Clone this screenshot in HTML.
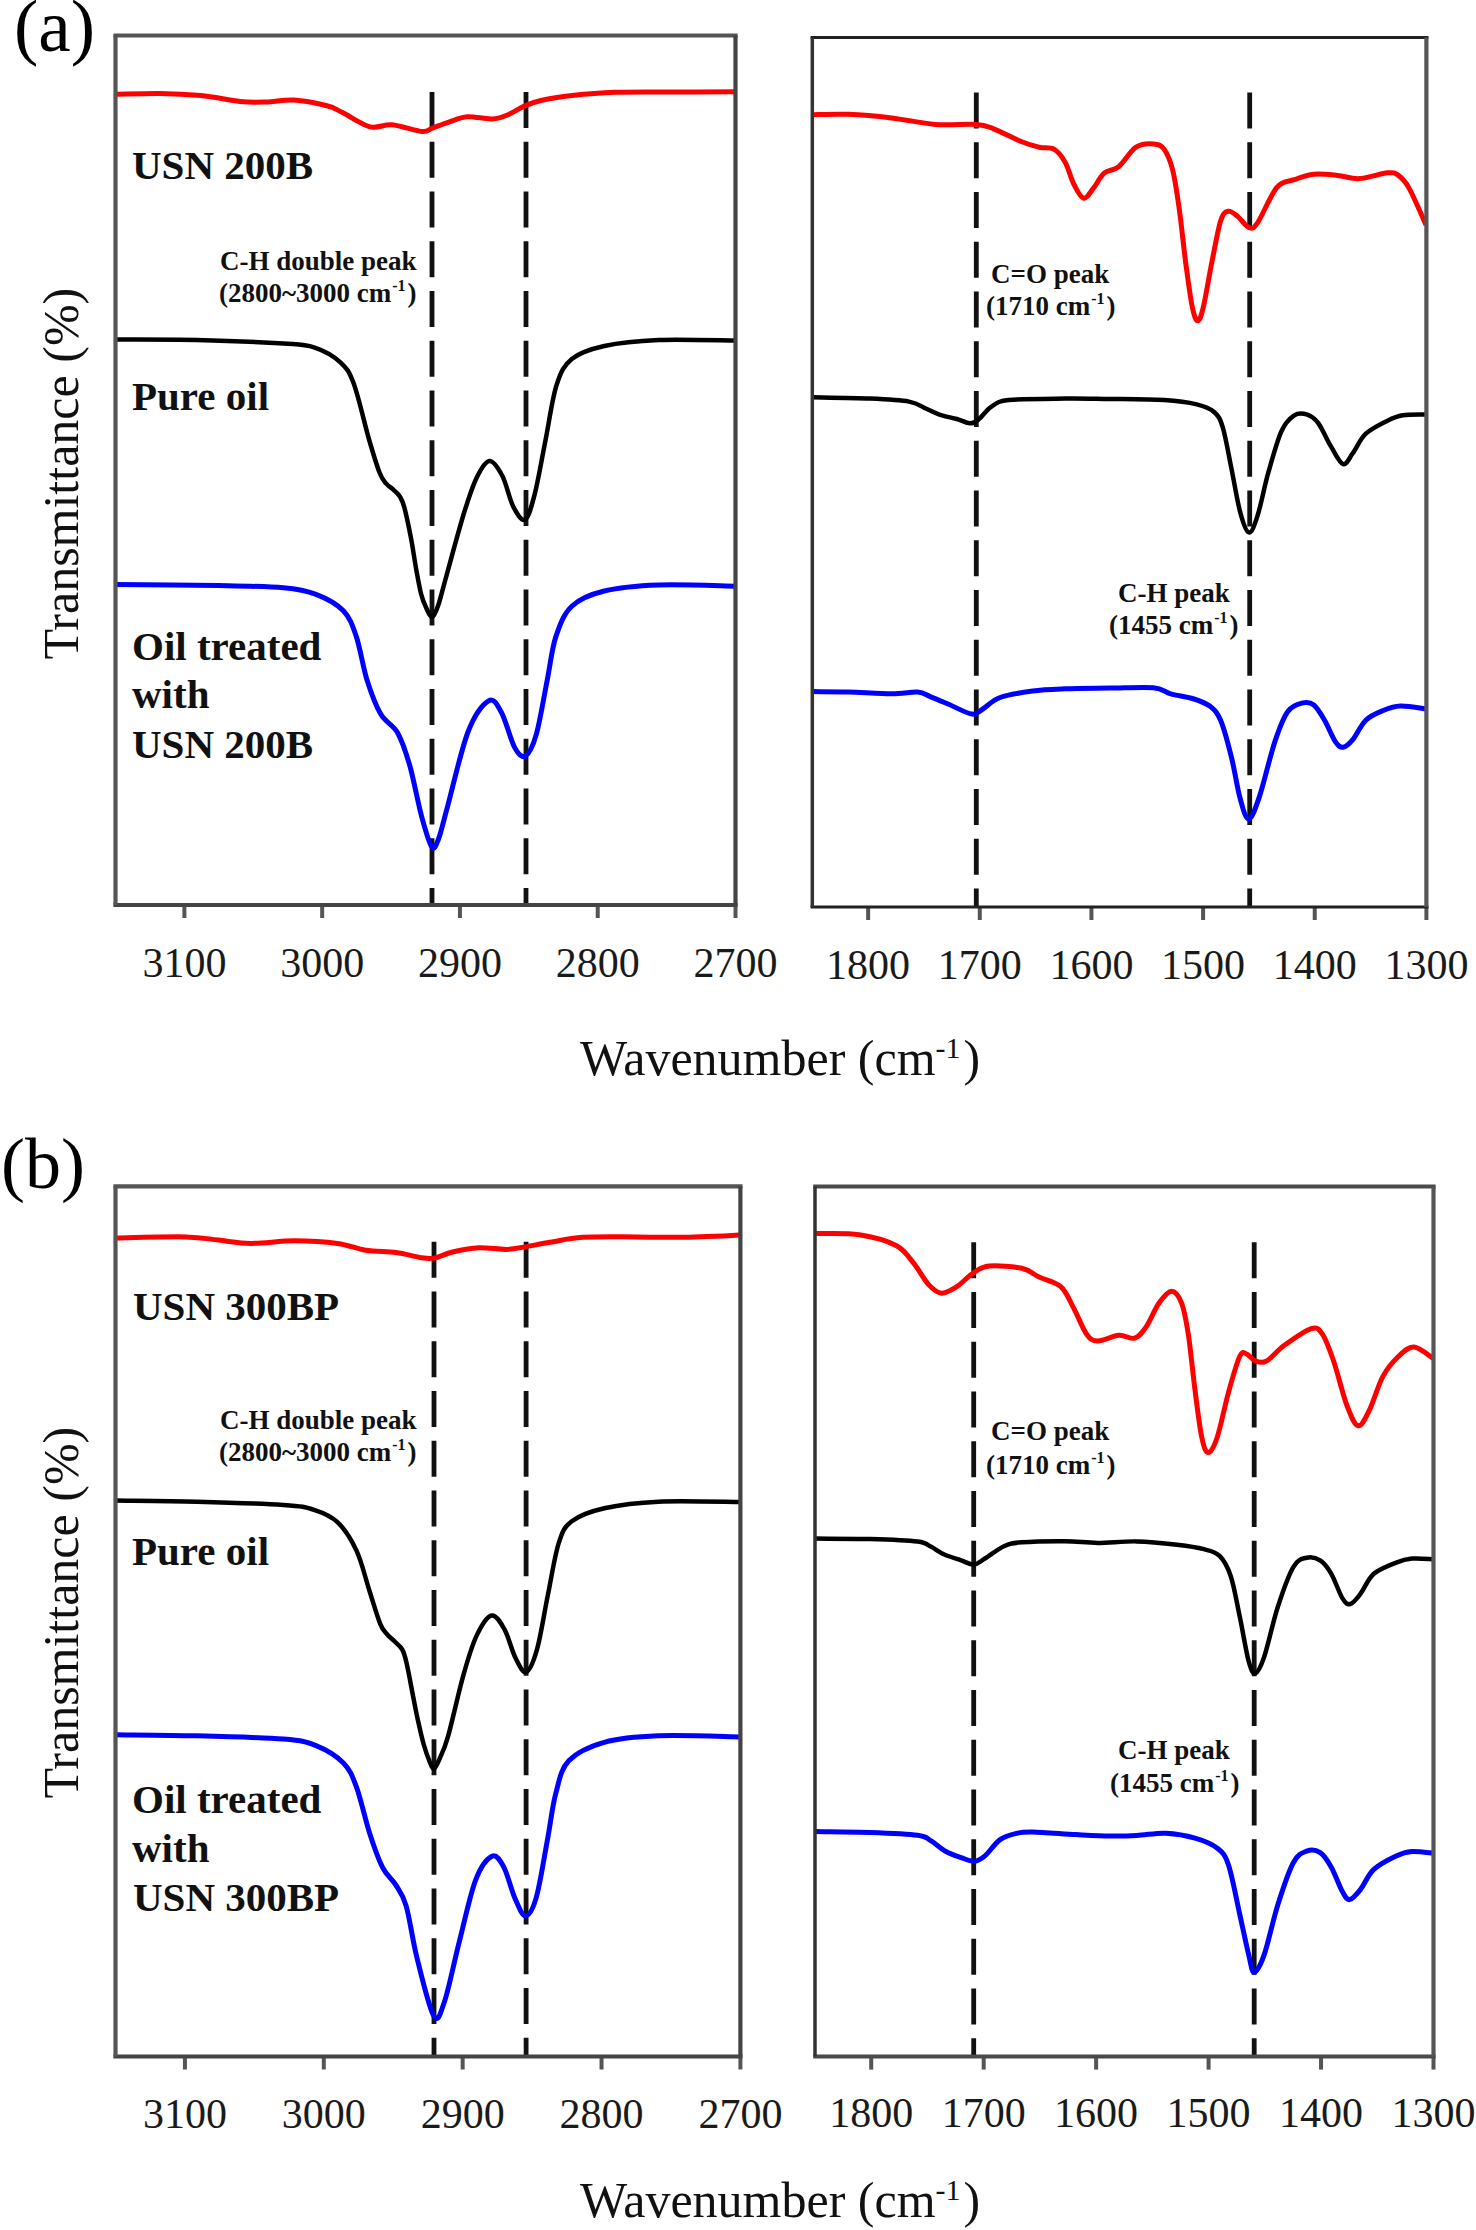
<!DOCTYPE html>
<html><head><meta charset="utf-8"><style>
html,body{margin:0;padding:0;background:#fff;}
svg{display:block;}
text{font-family:"Liberation Serif",serif;}
</style></head><body>
<svg width="1476" height="2230" viewBox="0 0 1476 2230">
<rect width="1476" height="2230" fill="#fff"/>
<g>

<line x1="184.38888888888889" y1="905" x2="184.38888888888889" y2="918" stroke="#555" stroke-width="4"/>
<text x="184.4" y="976.7" font-size="42" font-weight="normal" text-anchor="middle" fill="#1a1a1a" >3100</text>
<line x1="322.16666666666663" y1="905" x2="322.16666666666663" y2="918" stroke="#555" stroke-width="4"/>
<text x="322.2" y="976.7" font-size="42" font-weight="normal" text-anchor="middle" fill="#1a1a1a" >3000</text>
<line x1="459.94444444444446" y1="905" x2="459.94444444444446" y2="918" stroke="#555" stroke-width="4"/>
<text x="459.9" y="976.7" font-size="42" font-weight="normal" text-anchor="middle" fill="#1a1a1a" >2900</text>
<line x1="597.7222222222222" y1="905" x2="597.7222222222222" y2="918" stroke="#555" stroke-width="4"/>
<text x="597.7" y="976.7" font-size="42" font-weight="normal" text-anchor="middle" fill="#1a1a1a" >2800</text>
<line x1="735.5" y1="905" x2="735.5" y2="918" stroke="#555" stroke-width="4"/>
<text x="735.5" y="976.7" font-size="42" font-weight="normal" text-anchor="middle" fill="#1a1a1a" >2700</text>
<line x1="868.1272727272727" y1="907" x2="868.1272727272727" y2="920" stroke="#555" stroke-width="4"/>
<text x="868.1" y="978.5" font-size="42" font-weight="normal" text-anchor="middle" fill="#1a1a1a" >1800</text>
<line x1="979.7818181818182" y1="907" x2="979.7818181818182" y2="920" stroke="#555" stroke-width="4"/>
<text x="979.8" y="978.5" font-size="42" font-weight="normal" text-anchor="middle" fill="#1a1a1a" >1700</text>
<line x1="1091.4363636363637" y1="907" x2="1091.4363636363637" y2="920" stroke="#555" stroke-width="4"/>
<text x="1091.4" y="978.5" font-size="42" font-weight="normal" text-anchor="middle" fill="#1a1a1a" >1600</text>
<line x1="1203.0909090909092" y1="907" x2="1203.0909090909092" y2="920" stroke="#555" stroke-width="4"/>
<text x="1203.1" y="978.5" font-size="42" font-weight="normal" text-anchor="middle" fill="#1a1a1a" >1500</text>
<line x1="1314.7454545454545" y1="907" x2="1314.7454545454545" y2="920" stroke="#555" stroke-width="4"/>
<text x="1314.7" y="978.5" font-size="42" font-weight="normal" text-anchor="middle" fill="#1a1a1a" >1400</text>
<line x1="1426.4" y1="907" x2="1426.4" y2="920" stroke="#555" stroke-width="4"/>
<text x="1426.4" y="978.5" font-size="42" font-weight="normal" text-anchor="middle" fill="#1a1a1a" >1300</text>
<line x1="432" y1="92" x2="432" y2="905" stroke="#111" stroke-width="4.8" stroke-dasharray="36 13.75"/>
<line x1="526" y1="92" x2="526" y2="905" stroke="#111" stroke-width="4.8" stroke-dasharray="36 13.75"/>
<line x1="976.3" y1="92.5" x2="976.3" y2="907" stroke="#111" stroke-width="4.8" stroke-dasharray="36 13.75"/>
<line x1="1249.7" y1="92.5" x2="1249.7" y2="907" stroke="#111" stroke-width="4.8" stroke-dasharray="36 13.75"/>
<text x="14" y="51" font-size="73" font-weight="normal" text-anchor="start" fill="#000" >(a)</text>
<text x="78" y="659.5" font-size="50" font-weight="normal" text-anchor="start" fill="#111" transform="rotate(-90 78 659.5)">Transmittance (%)</text>
<text x="580" y="1075" font-size="50" font-weight="normal" text-anchor="start" fill="#111" >Wavenumber (cm<tspan font-size="30" dy="-17">-1</tspan><tspan dy="17" dx="3">)</tspan></text>
<text x="132" y="179" font-size="41" font-weight="bold" text-anchor="start" fill="#111" >USN 200B</text>
<text x="132" y="410" font-size="41" font-weight="bold" text-anchor="start" fill="#111" >Pure oil</text>
<text x="132" y="659.5" font-size="41" font-weight="bold" text-anchor="start" fill="#111" >Oil treated</text>
<text x="132" y="707.5" font-size="41" font-weight="bold" text-anchor="start" fill="#111" >with</text>
<text x="132" y="757.5" font-size="41" font-weight="bold" text-anchor="start" fill="#111" >USN 200B</text>
<text x="220" y="269.5" font-size="27" font-weight="bold" text-anchor="start" fill="#111" >C-H double peak</text>
<text x="219" y="301.5" font-size="27" font-weight="bold" text-anchor="start" fill="#111" >(2800~3000 cm<tspan font-size="16" dy="-11" dx="1">-1</tspan><tspan dy="11" dx="2">)</tspan></text>
<text x="991" y="282.5" font-size="27" font-weight="bold" text-anchor="start" fill="#111" >C=O peak</text>
<text x="986" y="315" font-size="27" font-weight="bold" text-anchor="start" fill="#111" >(1710 cm<tspan font-size="16" dy="-11" dx="1">-1</tspan><tspan dy="11" dx="2">)</tspan></text>
<text x="1118" y="602" font-size="27" font-weight="bold" text-anchor="start" fill="#111" >C-H peak</text>
<text x="1109" y="634" font-size="27" font-weight="bold" text-anchor="start" fill="#111" >(1455 cm<tspan font-size="16" dy="-11" dx="1">-1</tspan><tspan dy="11" dx="2">)</tspan></text>
<line x1="184.93333333333334" y1="2056.5" x2="184.93333333333334" y2="2069.5" stroke="#555" stroke-width="4"/>
<text x="184.9" y="2127.5" font-size="42" font-weight="normal" text-anchor="middle" fill="#1a1a1a" >3100</text>
<line x1="323.8" y1="2056.5" x2="323.8" y2="2069.5" stroke="#555" stroke-width="4"/>
<text x="323.8" y="2127.5" font-size="42" font-weight="normal" text-anchor="middle" fill="#1a1a1a" >3000</text>
<line x1="462.6666666666667" y1="2056.5" x2="462.6666666666667" y2="2069.5" stroke="#555" stroke-width="4"/>
<text x="462.7" y="2127.5" font-size="42" font-weight="normal" text-anchor="middle" fill="#1a1a1a" >2900</text>
<line x1="601.5333333333333" y1="2056.5" x2="601.5333333333333" y2="2069.5" stroke="#555" stroke-width="4"/>
<text x="601.5" y="2127.5" font-size="42" font-weight="normal" text-anchor="middle" fill="#1a1a1a" >2800</text>
<line x1="740.4" y1="2056.5" x2="740.4" y2="2069.5" stroke="#555" stroke-width="4"/>
<text x="740.4" y="2127.5" font-size="42" font-weight="normal" text-anchor="middle" fill="#1a1a1a" >2700</text>
<line x1="871.2272727272727" y1="2056.6" x2="871.2272727272727" y2="2069.6" stroke="#555" stroke-width="4"/>
<text x="871.2" y="2127" font-size="42" font-weight="normal" text-anchor="middle" fill="#1a1a1a" >1800</text>
<line x1="983.6818181818182" y1="2056.6" x2="983.6818181818182" y2="2069.6" stroke="#555" stroke-width="4"/>
<text x="983.7" y="2127" font-size="42" font-weight="normal" text-anchor="middle" fill="#1a1a1a" >1700</text>
<line x1="1096.1363636363635" y1="2056.6" x2="1096.1363636363635" y2="2069.6" stroke="#555" stroke-width="4"/>
<text x="1096.1" y="2127" font-size="42" font-weight="normal" text-anchor="middle" fill="#1a1a1a" >1600</text>
<line x1="1208.590909090909" y1="2056.6" x2="1208.590909090909" y2="2069.6" stroke="#555" stroke-width="4"/>
<text x="1208.6" y="2127" font-size="42" font-weight="normal" text-anchor="middle" fill="#1a1a1a" >1500</text>
<line x1="1321.0454545454545" y1="2056.6" x2="1321.0454545454545" y2="2069.6" stroke="#555" stroke-width="4"/>
<text x="1321.0" y="2127" font-size="42" font-weight="normal" text-anchor="middle" fill="#1a1a1a" >1400</text>
<line x1="1433.5" y1="2056.6" x2="1433.5" y2="2069.6" stroke="#555" stroke-width="4"/>
<text x="1433.5" y="2127" font-size="42" font-weight="normal" text-anchor="middle" fill="#1a1a1a" >1300</text>
<line x1="434" y1="1241.8" x2="434" y2="2056.5" stroke="#111" stroke-width="4.8" stroke-dasharray="36 13.75"/>
<line x1="526.1" y1="1241.8" x2="526.1" y2="2056.5" stroke="#111" stroke-width="4.8" stroke-dasharray="36 13.75"/>
<line x1="973.7" y1="1242.3" x2="973.7" y2="2056.2" stroke="#111" stroke-width="4.8" stroke-dasharray="36 13.75"/>
<line x1="1254.2" y1="1242.3" x2="1254.2" y2="2056.2" stroke="#111" stroke-width="4.8" stroke-dasharray="36 13.75"/>
<text x="1" y="1188" font-size="72" font-weight="normal" text-anchor="start" fill="#000" >(b)</text>
<text x="78" y="1798.5" font-size="50" font-weight="normal" text-anchor="start" fill="#111" transform="rotate(-90 78 1798.5)">Transmittance (%)</text>
<text x="580" y="2217" font-size="50" font-weight="normal" text-anchor="start" fill="#111" >Wavenumber (cm<tspan font-size="30" dy="-17">-1</tspan><tspan dy="17" dx="3">)</tspan></text>
<text x="133" y="1320.2" font-size="41" font-weight="bold" text-anchor="start" fill="#111" >USN 300BP</text>
<text x="132" y="1564.7" font-size="41" font-weight="bold" text-anchor="start" fill="#111" >Pure oil</text>
<text x="132" y="1812.9" font-size="41" font-weight="bold" text-anchor="start" fill="#111" >Oil treated</text>
<text x="132" y="1862.1" font-size="41" font-weight="bold" text-anchor="start" fill="#111" >with</text>
<text x="133" y="1911.3" font-size="41" font-weight="bold" text-anchor="start" fill="#111" >USN 300BP</text>
<text x="220" y="1428.7" font-size="27" font-weight="bold" text-anchor="start" fill="#111" >C-H double peak</text>
<text x="219" y="1460.5" font-size="27" font-weight="bold" text-anchor="start" fill="#111" >(2800~3000 cm<tspan font-size="16" dy="-11" dx="1">-1</tspan><tspan dy="11" dx="2">)</tspan></text>
<text x="991" y="1440" font-size="27" font-weight="bold" text-anchor="start" fill="#111" >C=O peak</text>
<text x="986" y="1473.5" font-size="27" font-weight="bold" text-anchor="start" fill="#111" >(1710 cm<tspan font-size="16" dy="-11" dx="1">-1</tspan><tspan dy="11" dx="2">)</tspan></text>
<text x="1118" y="1759.4" font-size="27" font-weight="bold" text-anchor="start" fill="#111" >C-H peak</text>
<text x="1110" y="1791.8" font-size="27" font-weight="bold" text-anchor="start" fill="#111" >(1455 cm<tspan font-size="16" dy="-11" dx="1">-1</tspan><tspan dy="11" dx="2">)</tspan></text>
<path d="M115.0,94.3 C122.5,94.2 145.7,93.2 160.0,93.4 C174.3,93.6 187.7,94.3 201.0,95.6 C214.3,96.9 229.2,100.3 240.0,101.4 C250.8,102.5 257.0,102.2 266.0,102.0 C275.0,101.8 283.8,99.4 294.0,100.0 C304.2,100.6 319.0,103.8 327.0,105.8 C335.0,107.8 334.8,108.8 342.0,112.3 C349.2,115.8 361.7,124.7 370.0,126.8 C378.3,128.9 383.4,123.9 392.0,124.7 C400.6,125.5 414.9,130.8 421.7,131.4 C428.4,132.0 428.0,129.7 432.5,128.1 C437.0,126.5 443.0,124.0 448.8,122.1 C454.6,120.2 460.0,117.2 467.2,116.7 C474.4,116.2 485.2,119.2 492.1,118.9 C499.0,118.6 503.0,116.8 508.4,114.6 C513.8,112.4 519.3,108.2 524.7,105.9 C530.1,103.6 533.0,102.2 540.9,100.5 C548.8,98.8 559.6,97.0 572.0,95.6 C584.4,94.2 597.0,92.9 615.0,92.3 C633.0,91.7 659.9,92.1 680.0,92.0 C700.1,91.9 726.2,91.8 735.5,91.7" fill="none" stroke="#ff0000" stroke-width="5" stroke-linejoin="round" stroke-linecap="butt"/>
<path d="M115.4,339.5 C128.9,339.6 168.7,339.3 196.7,340.0 C224.7,340.7 263.8,342.3 283.4,343.5 C302.9,344.7 304.5,344.2 314.0,347.3 C323.5,350.4 333.8,356.2 340.4,362.3 C347.0,368.4 349.0,370.9 353.8,383.8 C358.6,396.8 364.9,425.2 369.2,440.0 C373.5,454.8 376.7,465.3 379.5,472.5 C382.3,479.7 383.6,480.5 386.0,483.4 C388.4,486.3 391.2,487.6 393.6,489.9 C396.0,492.1 398.3,493.9 400.1,496.9 C401.9,499.9 402.6,500.9 404.4,507.7 C406.2,514.5 408.9,527.3 410.9,537.6 C412.9,547.9 414.5,559.9 416.2,569.3 C417.9,578.7 419.4,587.4 421.1,594.0 C422.8,600.6 424.8,605.0 426.6,608.8 C428.5,612.6 430.3,617.5 432.2,617.0 C434.1,616.5 435.8,612.2 438.0,606.0 C440.2,599.8 441.1,595.2 445.3,580.0 C449.5,564.8 458.2,532.0 463.4,515.0 C468.6,498.1 472.1,487.3 476.4,478.3 C480.7,469.3 485.1,461.4 489.4,461.0 C493.7,460.6 498.4,468.4 502.4,476.0 C506.4,483.6 509.4,499.2 513.2,506.5 C517.0,513.8 521.5,521.7 525.1,519.5 C528.7,517.3 531.5,506.8 534.9,493.4 C538.3,480.0 542.1,457.3 545.7,439.2 C549.3,421.1 552.2,398.4 556.6,385.0 C561.0,371.6 563.8,365.5 571.8,359.0 C579.8,352.5 589.8,349.2 604.3,346.0 C618.8,342.8 636.6,340.9 658.5,340.0 C680.4,339.1 722.7,340.5 735.5,340.6" fill="none" stroke="#000" stroke-width="4.5" stroke-linejoin="round" stroke-linecap="butt"/>
<path d="M115.4,584.5 C132.6,584.7 190.4,585.1 218.4,585.6 C246.4,586.1 267.1,586.3 283.4,587.8 C299.7,589.2 306.0,590.5 316.0,594.3 C326.0,598.1 336.7,603.7 343.4,610.8 C350.1,617.9 352.5,625.4 356.4,636.9 C360.3,648.4 362.9,667.1 367.0,680.0 C371.1,692.9 375.6,705.3 380.7,714.1 C385.8,722.9 392.9,724.4 397.7,732.9 C402.5,741.4 405.7,751.4 409.7,765.3 C413.7,779.2 417.9,802.8 421.6,816.4 C425.3,830.0 429.0,843.2 431.8,847.0 C434.6,850.8 435.9,845.5 438.5,839.0 C441.1,832.5 442.3,825.7 447.2,807.9 C452.1,790.1 461.1,749.9 468.0,732.0 C474.9,714.1 483.0,704.0 488.6,700.8 C494.2,697.6 497.3,704.9 501.6,712.7 C505.9,720.5 510.6,740.2 514.6,747.4 C518.6,754.6 521.9,758.2 525.5,756.0 C529.1,753.8 532.7,747.0 536.3,734.4 C539.9,721.8 544.0,696.5 547.2,680.2 C550.5,664.0 551.7,649.2 555.8,636.9 C559.9,624.6 563.7,613.9 571.8,606.2 C579.9,598.6 589.8,594.5 604.3,591.0 C618.8,587.5 636.6,585.8 658.5,585.0 C680.4,584.2 722.7,586.0 735.5,586.2" fill="none" stroke="#0000ff" stroke-width="5" stroke-linejoin="round" stroke-linecap="butt"/>
<path d="M812.6,114.7 C818.6,114.6 835.2,113.8 848.4,114.3 C861.6,114.8 877.3,116.2 891.7,117.9 C906.1,119.6 920.9,123.3 935.0,124.4 C949.1,125.5 966.5,123.7 976.3,124.4 C986.1,125.1 986.0,125.9 993.6,128.8 C1001.2,131.7 1014.2,138.7 1021.8,141.8 C1029.4,144.9 1033.7,145.9 1039.1,147.2 C1044.5,148.5 1049.9,146.9 1054.3,149.4 C1058.7,151.9 1062.0,156.6 1065.2,162.4 C1068.5,168.2 1070.7,178.1 1073.8,184.1 C1076.9,190.1 1080.3,197.5 1083.6,198.2 C1086.8,198.9 1089.9,192.6 1093.3,188.4 C1096.7,184.2 1100.0,176.8 1104.2,173.2 C1108.4,169.6 1113.4,171.0 1118.7,166.7 C1124.0,162.4 1130.2,151.0 1136.0,147.2 C1141.8,143.4 1148.7,143.6 1153.4,144.0 C1158.1,144.4 1161.0,144.9 1164.2,149.4 C1167.5,153.9 1170.4,160.9 1172.9,171.0 C1175.4,181.1 1177.2,194.5 1179.4,210.1 C1181.6,225.7 1183.7,248.1 1185.9,264.3 C1188.1,280.6 1190.4,298.2 1192.4,307.6 C1194.4,317.0 1196.0,320.7 1197.8,320.7 C1199.6,320.7 1200.8,317.4 1203.2,307.6 C1205.6,297.8 1209.0,276.6 1211.9,262.1 C1214.8,247.7 1217.9,229.4 1220.6,220.9 C1223.3,212.4 1225.3,211.9 1228.2,211.2 C1231.1,210.5 1234.5,213.9 1237.9,216.6 C1241.3,219.3 1245.5,226.3 1248.8,227.4 C1252.0,228.5 1252.7,229.8 1257.4,223.1 C1262.1,216.4 1270.8,194.5 1276.9,187.3 C1283.1,180.1 1288.2,181.9 1294.3,179.7 C1300.4,177.5 1306.6,175.0 1313.8,174.3 C1321.0,173.6 1330.0,174.7 1337.6,175.4 C1345.2,176.1 1351.0,179.0 1359.3,178.6 C1367.6,178.2 1381.0,173.3 1387.5,172.8 C1394.0,172.3 1394.8,172.8 1398.4,175.4 C1402.0,178.0 1404.6,180.1 1409.2,188.4 C1413.8,196.7 1423.2,218.9 1426.0,225.0" fill="none" stroke="#ff0000" stroke-width="5" stroke-linejoin="round" stroke-linecap="butt"/>
<path d="M812.6,397.3 C822.2,397.5 853.9,397.9 870.0,398.6 C886.1,399.3 899.7,399.9 909.1,401.6 C918.5,403.3 921.4,406.6 926.4,408.8 C931.4,411.0 934.3,412.9 939.4,414.6 C944.5,416.3 951.7,417.6 956.8,419.0 C961.9,420.4 966.2,423.2 969.8,423.3 C973.4,423.4 974.8,422.4 978.4,419.6 C982.0,416.8 986.4,409.9 991.5,406.6 C996.6,403.4 996.5,401.4 1008.8,400.1 C1021.1,398.8 1048.3,398.8 1065.2,398.6 C1082.1,398.4 1093.5,398.8 1110.0,399.0 C1126.5,399.2 1149.8,399.2 1164.2,400.1 C1178.7,401.0 1188.4,402.4 1196.7,404.4 C1205.0,406.4 1209.8,408.2 1214.1,412.0 C1218.4,415.8 1219.8,417.8 1222.7,427.2 C1225.6,436.6 1228.5,454.3 1231.4,468.4 C1234.3,482.5 1237.2,501.1 1240.1,511.8 C1243.0,522.5 1245.9,531.7 1248.8,532.4 C1251.7,533.1 1254.2,526.1 1257.4,516.1 C1260.7,506.2 1264.3,486.8 1268.3,472.7 C1272.3,458.6 1277.0,441.1 1281.3,431.5 C1285.6,421.9 1290.0,418.1 1294.3,415.3 C1298.6,412.5 1303.3,413.3 1307.3,414.6 C1311.3,415.9 1314.1,417.5 1318.1,422.9 C1322.1,428.2 1326.9,439.8 1331.1,446.7 C1335.3,453.6 1339.5,463.0 1343.1,464.1 C1346.7,465.2 1349.0,458.3 1352.8,453.2 C1356.6,448.1 1360.0,439.1 1365.8,433.7 C1371.6,428.3 1381.3,423.8 1387.5,420.7 C1393.7,417.6 1396.3,416.3 1402.7,415.3 C1409.1,414.3 1422.1,414.7 1426.0,414.6" fill="none" stroke="#000" stroke-width="4.5" stroke-linejoin="round" stroke-linecap="butt"/>
<path d="M812.6,691.6 C818.6,691.7 835.2,691.6 848.4,692.0 C861.6,692.4 880.2,693.8 891.7,693.8 C903.2,693.8 911.2,691.5 917.7,692.0 C924.2,692.5 925.6,694.8 930.7,696.8 C935.8,698.8 941.2,701.1 948.1,704.0 C955.0,706.9 966.1,713.3 971.9,714.1 C977.7,714.9 978.1,711.8 982.8,709.0 C987.5,706.2 991.8,700.5 1000.1,697.5 C1008.4,694.5 1021.7,692.5 1032.6,691.0 C1043.4,689.5 1052.3,689.3 1065.2,688.8 C1078.1,688.3 1095.3,688.3 1110.0,688.1 C1124.7,687.9 1143.3,686.8 1153.4,687.7 C1163.5,688.7 1164.2,692.0 1170.7,693.8 C1177.2,695.6 1185.9,696.5 1192.4,698.5 C1198.9,700.5 1205.0,702.5 1209.7,706.1 C1214.4,709.7 1217.0,711.7 1220.6,720.2 C1224.2,728.7 1228.2,744.1 1231.4,757.1 C1234.7,770.1 1237.2,788.0 1240.1,798.3 C1243.0,808.6 1245.5,819.3 1248.8,818.9 C1252.0,818.5 1255.3,808.9 1259.6,796.1 C1263.9,783.3 1270.1,756.0 1274.8,741.9 C1279.5,727.8 1283.1,718.0 1287.8,711.5 C1292.5,705.0 1298.7,704.0 1303.0,702.9 C1307.3,701.8 1310.2,702.1 1313.8,705.0 C1317.4,707.9 1321.0,714.1 1324.6,720.2 C1328.2,726.4 1332.4,737.4 1335.5,741.9 C1338.6,746.4 1340.2,747.7 1343.1,747.3 C1346.0,746.9 1349.0,744.2 1352.8,739.7 C1356.6,735.2 1360.7,725.1 1365.8,720.2 C1370.9,715.3 1377.4,712.9 1383.2,710.5 C1389.0,708.1 1393.4,706.4 1400.5,706.1 C1407.6,705.8 1421.8,708.4 1426.0,708.9" fill="none" stroke="#0000ff" stroke-width="5" stroke-linejoin="round" stroke-linecap="butt"/>
<path d="M115.4,1237.9 C127.2,1237.7 168.7,1236.5 185.9,1236.9 C203.1,1237.3 207.6,1239.0 218.4,1240.1 C229.2,1241.2 238.2,1243.3 250.9,1243.4 C263.6,1243.5 279.9,1240.8 294.3,1240.8 C308.8,1240.8 325.7,1241.8 337.6,1243.4 C349.5,1245.0 356.0,1248.8 365.8,1250.3 C375.6,1251.8 387.2,1251.3 396.2,1252.5 C405.2,1253.7 413.7,1256.6 420.0,1257.5 C426.3,1258.4 428.7,1259.0 434.1,1258.1 C439.5,1257.2 445.1,1253.7 452.5,1252.0 C459.9,1250.3 469.5,1248.1 478.5,1247.7 C487.5,1247.3 498.8,1249.6 506.7,1249.4 C514.6,1249.2 519.0,1247.8 526.2,1246.6 C533.4,1245.4 540.7,1243.8 550.1,1242.3 C559.5,1240.8 568.2,1238.2 582.6,1237.3 C597.0,1236.4 620.5,1236.9 636.8,1236.9 C653.1,1236.9 662.9,1237.6 680.2,1237.3 C697.5,1237.0 730.4,1235.5 740.4,1235.1" fill="none" stroke="#ff0000" stroke-width="5" stroke-linejoin="round" stroke-linecap="butt"/>
<path d="M115.4,1500.6 C128.9,1500.8 168.7,1501.0 196.7,1501.7 C224.7,1502.4 263.8,1503.7 283.4,1505.0 C302.9,1506.3 304.9,1506.9 314.0,1509.8 C323.1,1512.7 330.6,1515.5 337.7,1522.3 C344.8,1529.1 351.2,1539.3 356.5,1550.6 C361.8,1561.9 365.3,1577.8 369.2,1590.0 C373.1,1602.2 377.1,1616.2 380.1,1623.6 C383.1,1631.0 384.7,1631.4 387.1,1634.4 C389.5,1637.4 392.2,1639.0 394.7,1641.5 C397.2,1644.0 400.3,1646.0 402.3,1649.6 C404.3,1653.2 404.9,1655.7 406.6,1663.2 C408.4,1670.7 411.0,1685.4 412.8,1694.7 C414.6,1704.0 415.9,1711.1 417.7,1719.3 C419.5,1727.5 421.6,1737.0 423.6,1744.0 C425.6,1751.0 427.8,1757.2 429.5,1761.3 C431.2,1765.4 432.3,1768.9 434.0,1768.5 C435.7,1768.1 437.1,1764.5 439.5,1759.0 C441.9,1753.5 444.2,1749.8 448.2,1735.8 C452.2,1721.8 458.7,1691.7 463.4,1675.1 C468.1,1658.5 471.7,1646.0 476.4,1636.1 C481.1,1626.2 486.8,1616.6 491.5,1615.5 C496.2,1614.4 500.6,1622.5 504.6,1629.6 C508.6,1636.6 511.8,1650.8 515.4,1657.8 C519.0,1664.8 522.6,1673.4 526.2,1671.9 C529.8,1670.5 533.5,1661.9 537.1,1649.1 C540.7,1636.3 544.3,1612.6 547.9,1594.9 C551.5,1577.2 554.8,1555.2 558.8,1542.9 C562.8,1530.6 564.2,1527.0 571.8,1521.2 C579.4,1515.4 589.8,1511.5 604.3,1508.2 C618.8,1505.0 635.8,1502.7 658.5,1501.7 C681.2,1500.7 726.8,1502.0 740.4,1502.1" fill="none" stroke="#000" stroke-width="4.5" stroke-linejoin="round" stroke-linecap="butt"/>
<path d="M115.4,1734.7 C128.9,1734.9 168.7,1735.1 196.7,1735.8 C224.7,1736.5 263.5,1737.5 283.4,1739.1 C303.3,1740.7 306.0,1741.6 316.0,1745.6 C326.0,1749.6 336.7,1756.1 343.4,1763.0 C350.1,1769.9 352.1,1775.3 356.4,1786.9 C360.7,1798.5 365.1,1819.0 369.4,1832.4 C373.7,1845.8 378.1,1858.4 382.4,1867.1 C386.7,1875.8 391.4,1877.9 395.4,1884.4 C399.4,1890.9 402.6,1893.8 406.2,1906.1 C409.8,1918.4 412.4,1939.7 417.0,1958.0 C421.6,1976.3 429.2,2008.8 433.8,2016.0 C438.4,2023.2 440.2,2014.0 444.5,2001.5 C448.8,1989.0 454.3,1961.0 459.5,1940.8 C464.7,1920.6 470.2,1894.2 475.6,1880.1 C481.0,1866.0 487.2,1858.4 491.9,1856.2 C496.6,1854.0 500.0,1860.2 503.8,1867.1 C507.6,1874.0 511.0,1889.3 514.6,1897.4 C518.2,1905.5 521.9,1915.9 525.5,1915.9 C529.1,1915.9 532.7,1909.9 536.3,1897.4 C539.9,1884.9 544.0,1858.4 547.2,1841.1 C550.5,1823.8 552.2,1806.8 555.8,1793.4 C559.4,1780.0 560.7,1769.3 568.8,1760.8 C576.9,1752.3 589.3,1746.5 604.3,1742.3 C619.2,1738.1 635.8,1736.7 658.5,1735.8 C681.2,1734.9 726.8,1736.7 740.4,1736.9" fill="none" stroke="#0000ff" stroke-width="5" stroke-linejoin="round" stroke-linecap="butt"/>
<path d="M814.8,1233.6 C822.2,1233.8 845.7,1232.7 859.2,1234.7 C872.8,1236.7 887.1,1240.8 896.1,1245.5 C905.1,1250.2 908.0,1256.4 913.4,1262.9 C918.8,1269.4 923.9,1279.5 928.6,1284.6 C933.3,1289.6 936.9,1292.8 941.6,1293.2 C946.3,1293.6 951.4,1290.1 956.8,1286.7 C962.1,1283.3 968.3,1276.0 973.7,1272.6 C979.1,1269.2 981.3,1266.8 989.3,1266.1 C997.3,1265.4 1013.5,1266.5 1021.8,1268.3 C1030.1,1270.1 1032.6,1273.9 1039.1,1277.0 C1045.6,1280.1 1055.0,1281.5 1060.8,1286.7 C1066.6,1291.9 1069.5,1300.5 1073.8,1308.4 C1078.1,1316.4 1082.8,1329.0 1086.8,1334.4 C1090.8,1339.8 1092.3,1340.8 1097.7,1340.9 C1103.1,1341.1 1112.8,1335.8 1118.9,1335.3 C1125.1,1334.8 1130.1,1339.5 1134.6,1338.2 C1139.1,1336.9 1141.7,1333.3 1145.8,1327.4 C1149.9,1321.5 1154.9,1308.8 1159.2,1302.8 C1163.5,1296.8 1167.8,1291.2 1171.5,1291.2 C1175.2,1291.2 1178.7,1295.7 1181.5,1302.8 C1184.3,1309.9 1186.0,1319.6 1188.3,1334.1 C1190.5,1348.6 1192.8,1372.8 1195.0,1390.0 C1197.2,1407.2 1199.5,1426.6 1201.7,1437.0 C1203.9,1447.4 1205.8,1452.6 1208.4,1452.6 C1211.0,1452.6 1214.0,1447.0 1217.3,1437.0 C1220.6,1427.0 1224.8,1405.7 1228.5,1392.3 C1232.2,1378.9 1236.7,1362.9 1239.7,1356.5 C1242.7,1350.1 1243.8,1353.0 1246.4,1353.8 C1249.0,1354.5 1252.0,1359.8 1255.3,1361.0 C1258.6,1362.2 1261.7,1363.6 1266.5,1361.0 C1271.3,1358.4 1277.0,1350.7 1284.4,1345.3 C1291.9,1339.9 1304.9,1330.5 1311.2,1328.6 C1317.5,1326.7 1318.7,1328.7 1322.4,1334.1 C1326.1,1339.5 1329.5,1349.1 1333.6,1361.0 C1337.7,1372.9 1342.9,1394.9 1347.0,1405.7 C1351.1,1416.5 1354.5,1425.0 1358.2,1425.8 C1361.9,1426.5 1365.3,1418.4 1369.4,1410.2 C1373.5,1402.0 1378.0,1385.5 1382.8,1376.6 C1387.6,1367.6 1393.2,1361.4 1398.4,1356.5 C1403.6,1351.6 1408.2,1346.7 1414.1,1347.1 C1420.0,1347.5 1430.3,1356.8 1433.6,1358.7" fill="none" stroke="#ff0000" stroke-width="5" stroke-linejoin="round" stroke-linecap="butt"/>
<path d="M814.8,1538.6 C824.0,1538.7 852.9,1538.5 870.0,1539.0 C887.1,1539.5 907.6,1540.3 917.7,1541.6 C927.8,1542.9 926.4,1544.5 930.7,1546.6 C935.1,1548.7 938.7,1551.9 943.8,1554.2 C948.9,1556.5 956.1,1558.6 961.1,1560.3 C966.1,1562.0 969.7,1564.9 973.7,1564.6 C977.7,1564.3 979.9,1561.6 985.0,1558.5 C990.1,1555.4 998.4,1548.7 1004.5,1546.0 C1010.6,1543.3 1011.7,1543.1 1021.8,1542.3 C1031.9,1541.5 1052.5,1541.1 1065.2,1541.2 C1077.9,1541.3 1085.8,1542.9 1097.7,1542.9 C1109.6,1542.9 1123.6,1541.1 1136.8,1541.4 C1150.0,1541.7 1165.9,1543.4 1177.1,1544.7 C1188.3,1546.0 1196.8,1547.3 1203.9,1549.2 C1211.0,1551.1 1215.1,1551.4 1219.6,1555.9 C1224.1,1560.4 1227.3,1565.9 1230.7,1576.0 C1234.1,1586.1 1236.7,1602.1 1239.7,1616.3 C1242.7,1630.5 1246.0,1651.5 1248.6,1661.0 C1251.2,1670.5 1252.7,1674.0 1255.3,1673.3 C1257.9,1672.5 1260.6,1667.5 1264.3,1656.5 C1268.0,1645.5 1272.9,1622.2 1277.7,1607.3 C1282.5,1592.4 1288.5,1575.4 1293.3,1567.1 C1298.1,1558.8 1302.2,1558.8 1306.7,1557.7 C1311.2,1556.6 1316.1,1557.7 1320.2,1560.4 C1324.3,1563.1 1327.6,1567.5 1331.3,1573.8 C1335.0,1580.1 1339.3,1593.4 1342.5,1598.4 C1345.7,1603.4 1347.3,1604.8 1350.3,1604.0 C1353.3,1603.2 1356.5,1598.9 1360.4,1593.9 C1364.3,1588.9 1367.8,1579.0 1373.8,1573.8 C1379.8,1568.6 1389.9,1565.1 1396.2,1562.6 C1402.5,1560.1 1405.6,1559.2 1411.8,1558.6 C1418.0,1558.0 1430.0,1559.1 1433.6,1559.2" fill="none" stroke="#000" stroke-width="4.5" stroke-linejoin="round" stroke-linecap="butt"/>
<path d="M814.8,1831.6 C824.0,1831.8 852.9,1831.9 870.0,1832.5 C887.1,1833.1 907.6,1833.9 917.7,1835.3 C927.8,1836.7 926.0,1838.0 930.7,1840.7 C935.4,1843.4 940.8,1848.7 945.9,1851.5 C951.0,1854.3 956.4,1856.0 961.1,1857.6 C965.8,1859.2 970.1,1861.6 974.1,1861.3 C978.1,1861.0 980.7,1859.5 985.0,1855.9 C989.3,1852.3 994.7,1843.4 1000.1,1839.6 C1005.5,1835.8 1012.1,1834.4 1017.5,1833.1 C1022.9,1831.8 1022.8,1831.8 1032.6,1832.0 C1042.3,1832.2 1063.1,1833.9 1076.0,1834.6 C1088.9,1835.2 1099.9,1835.8 1110.0,1835.9 C1120.1,1836.0 1127.5,1835.9 1136.8,1835.4 C1146.1,1835.0 1156.2,1832.8 1165.9,1833.2 C1175.6,1833.7 1186.4,1835.6 1195.0,1838.1 C1203.6,1840.6 1211.7,1843.7 1217.3,1848.2 C1222.9,1852.7 1224.8,1854.0 1228.5,1865.0 C1232.2,1876.0 1236.4,1899.2 1239.7,1914.1 C1243.0,1929.0 1246.2,1944.7 1248.6,1954.4 C1251.0,1964.1 1251.6,1972.3 1254.2,1972.3 C1256.8,1972.3 1260.4,1965.6 1264.3,1954.4 C1268.2,1943.2 1272.9,1920.5 1277.7,1905.2 C1282.5,1889.9 1288.5,1871.7 1293.3,1862.7 C1298.1,1853.7 1302.2,1852.8 1306.7,1851.1 C1311.2,1849.4 1316.1,1850.0 1320.2,1852.7 C1324.3,1855.4 1327.6,1860.7 1331.3,1867.2 C1335.0,1873.7 1339.4,1886.4 1342.5,1891.8 C1345.6,1897.2 1346.7,1900.0 1349.7,1899.6 C1352.7,1899.2 1356.4,1894.6 1360.4,1889.6 C1364.4,1884.6 1367.8,1875.0 1373.8,1869.4 C1379.8,1863.8 1389.9,1859.0 1396.2,1856.0 C1402.5,1853.0 1405.6,1852.0 1411.8,1851.5 C1418.0,1851.0 1430.0,1853.0 1433.6,1853.3" fill="none" stroke="#0000ff" stroke-width="5" stroke-linejoin="round" stroke-linecap="butt"/>
<line x1="113.4" y1="35.5" x2="737.6" y2="35.5" stroke="#555" stroke-width="4.2"/>
<line x1="113.4" y1="905" x2="737.6" y2="905" stroke="#444" stroke-width="4.2"/>
<line x1="115.5" y1="35.5" x2="115.5" y2="905" stroke="#555" stroke-width="4.2"/>
<line x1="735.5" y1="35.5" x2="735.5" y2="905" stroke="#444" stroke-width="4.2"/>
<line x1="810.55" y1="37.5" x2="1428.5" y2="37.5" stroke="#222" stroke-width="3"/>
<line x1="810.55" y1="907" x2="1428.5" y2="907" stroke="#222" stroke-width="3"/>
<line x1="812.3" y1="37.5" x2="812.3" y2="907" stroke="#333" stroke-width="3.5"/>
<line x1="1426.4" y1="37.5" x2="1426.4" y2="907" stroke="#555" stroke-width="4.2"/>
<line x1="113.4" y1="1186.3" x2="742.5" y2="1186.3" stroke="#555" stroke-width="4.2"/>
<line x1="113.4" y1="2056.5" x2="742.5" y2="2056.5" stroke="#444" stroke-width="4.2"/>
<line x1="115.5" y1="1186.3" x2="115.5" y2="2056.5" stroke="#555" stroke-width="4.2"/>
<line x1="740.4" y1="1186.3" x2="740.4" y2="2056.5" stroke="#444" stroke-width="4.2"/>
<line x1="813.25" y1="1186.4" x2="1435.6" y2="1186.4" stroke="#4a4a4a" stroke-width="4"/>
<line x1="813.25" y1="2056.6" x2="1435.6" y2="2056.6" stroke="#4a4a4a" stroke-width="4"/>
<line x1="815" y1="1186.4" x2="815" y2="2056.6" stroke="#333" stroke-width="3.5"/>
<line x1="1433.5" y1="1186.4" x2="1433.5" y2="2056.6" stroke="#555" stroke-width="4.2"/>
</g></svg></body></html>
